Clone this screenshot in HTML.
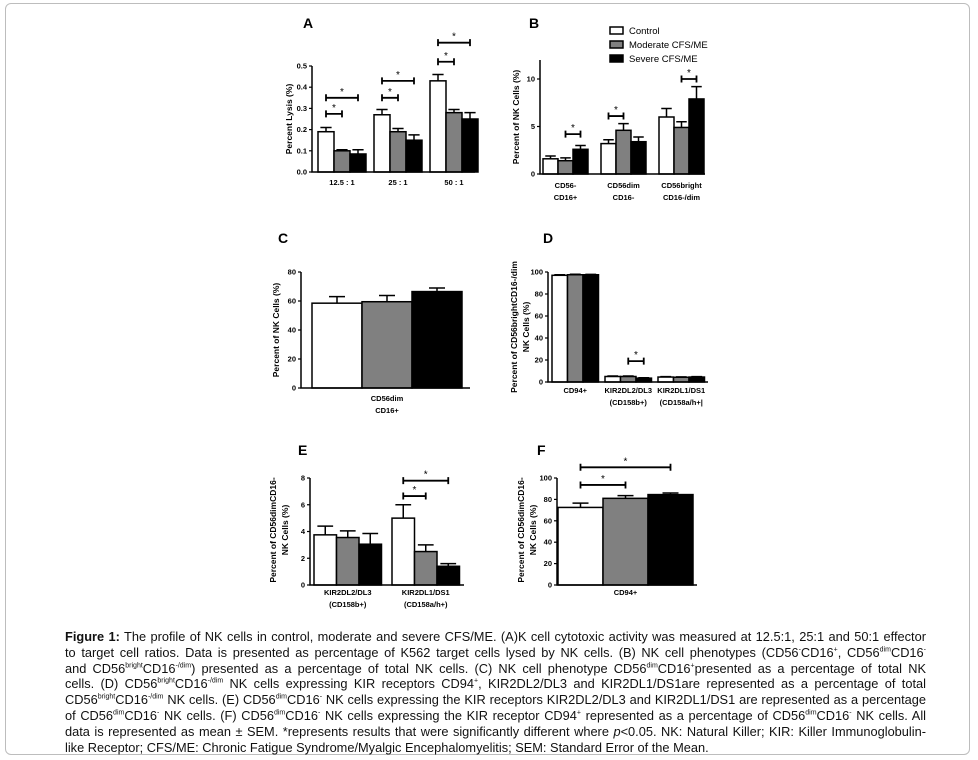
<!DOCTYPE html>
<html><head><meta charset="utf-8">
<style>
body{margin:0;background:#fff;width:978px;height:760px;overflow:hidden;position:relative;font-family:"Liberation Sans",Arial,sans-serif}
#frame{position:absolute;left:5px;top:3px;width:965px;height:752px;border:1.5px solid #bdbdbd;border-radius:6px;box-sizing:border-box}
#cap{position:absolute;left:65px;top:629px;width:861px;font-size:12.8px;line-height:15.8px;color:#111}
#cap span{display:block;white-space:nowrap;text-align:justify;text-align-last:justify}
#cap span.last{text-align-last:left}
#cap sup{font-size:7px;line-height:0}
svg{position:absolute;left:0;top:0}
svg text{font-family:"Liberation Sans",Arial,sans-serif}
</style></head><body>
<div id="frame"></div>
<svg id="fig" width="978" height="620"></svg>
<div id="cap">
<span><b>Figure 1:</b> The profile of NK cells in control, moderate and severe CFS/ME. (A)K cell cytotoxic activity was measured at 12.5:1, 25:1 and 50:1 effector</span>
<span>to target cell ratios. Data is presented as percentage of K562 target cells lysed by NK cells. (B) NK cell phenotypes (CD56<sup>-</sup>CD16<sup>+</sup>, CD56<sup>dim</sup>CD16<sup>-</sup></span>
<span>and CD56<sup>bright</sup>CD16<sup>-/dim</sup>) presented as a percentage of total NK cells. (C) NK cell phenotype CD56<sup>dim</sup>CD16<sup>+</sup>presented as a percentage of total NK</span>
<span>cells. (D) CD56<sup>bright</sup>CD16<sup>-/dim</sup> NK cells expressing KIR receptors CD94<sup>+</sup>, KIR2DL2/DL3 and KIR2DL1/DS1are represented as a percentage of total</span>
<span>CD56<sup>bright</sup>CD16<sup>-/dim</sup> NK cells. (E) CD56<sup>dim</sup>CD16<sup>-</sup> NK cells expressing the KIR receptors KIR2DL2/DL3 and KIR2DL1/DS1 are represented as a percentage</span>
<span>of CD56<sup>dim</sup>CD16<sup>-</sup> NK cells. (F) CD56<sup>dim</sup>CD16<sup>-</sup> NK cells expressing the KIR receptor CD94<sup>+</sup> represented as a percentage of CD56<sup>dim</sup>CD16<sup>-</sup> NK cells. All</span>
<span>data is represented as mean ± SEM. *represents results that were significantly different where <i>p</i>&lt;0.05. NK: Natural Killer; KIR: Killer Immunoglobulin-</span>
<span class="last">like Receptor; CFS/ME: Chronic Fatigue Syndrome/Myalgic Encephalomyelitis; SEM: Standard Error of the Mean.</span>
</div>
<script>
// ---- data ----
const seriesNames=["Control","Moderate CFS/ME","Severe CFS/ME"];
const aCats=["12.5 : 1","25 : 1","50 : 1"];
const aCtrl=[0.19,0.27,0.43], aCtrlErr=[0.02,0.025,0.03];
const aMod=[0.10,0.19,0.28], aModErr=[0.005,0.015,0.015];
const aSev=[0.085,0.15,0.25], aSevErr=[0.02,0.025,0.03];
const aTicks=["0.0","0.1","0.2","0.3","0.4","0.5"];
const aSig=[[0,0,1,0.274],[0,0,2,0.35],[1,0,1,0.35],[1,0,2,0.43],[2,0,1,0.52],[2,0,2,0.61]];

const bCats=[["CD56-","CD16+"],["CD56dim","CD16-"],["CD56bright","CD16-/dim"]];
const bCtrl=[1.6,3.2,6.0], bCtrlErr=[0.3,0.4,0.9];
const bMod=[1.4,4.6,4.9], bModErr=[0.3,0.7,0.6];
const bSev=[2.6,3.4,7.9], bSevErr=[0.4,0.5,1.3];
const bTicks=["0","5","10"];
const bSig=[[0,1,2,4.2],[1,0,1,6.1],[2,1,2,10]];

const cCats=[["CD56dim","CD16+"]];
const cCtrl=[58.5], cCtrlErr=[4.5];
const cMod=[59.5], cModErr=[4.3];
const cSev=[66.5], cSevErr=[2.5];
const cTicks=["0","20","40","60","80"];
const cSig=[];

const dCats=[["CD94+"],["KIR2DL2/DL3","(CD158b+)"],["KIR2DL1/DS1","(CD158a/h+|"]];
const dCtrl=[97,5,4.5], dCtrlErr=[0.5,0.4,0.4];
const dMod=[97.5,5,4.3], dModErr=[0.4,0.4,0.4];
const dSev=[97.5,3.5,4.5], dSevErr=[0.3,0.4,0.4];
const dTicks=["0","20","40","60","80","100"];
const dSig=[[1,1,2,19]];

const eCats=[["KIR2DL2/DL3","(CD158b+)"],["KIR2DL1/DS1","(CD158a/h+)"]];
const eCtrl=[3.75,5.0], eCtrlErr=[0.65,1.0];
const eMod=[3.55,2.5], eModErr=[0.5,0.5];
const eSev=[3.05,1.4], eSevErr=[0.8,0.2];
const eTicks=["0","2","4","6","8"];
const eSig=[[1,0,1,6.65],[1,0,2,7.8]];

const fCats=[["CD94+"]];
const fCtrl=[72.5], fCtrlErr=[4];
const fMod=[81], fModErr=[2.5];
const fSev=[84.5], fSevErr=[1.5];
const fTicks=["0","20","40","60","80","100"];
const fSig=[[0,0,1,93.5],[0,0,2,110]];

// ---- drawing ----
const NS="http://www.w3.org/2000/svg";
const svg=document.getElementById('fig');
function mk(tag,attrs,parent,txt){const e=document.createElementNS(NS,tag);for(const k in attrs)e.setAttribute(k,attrs[k]);if(txt!==undefined)e.textContent=txt;(parent||svg).appendChild(e);return e;}
const fills=["#fff","#808080","#000"];

function panel(p){
  const g=mk('g',{});
  
  
  const y=v=>p.y0-(v/p.vmax)*(p.y0-p.yTop);
  const xb=(gi,si)=>p.gx+gi*p.step+si*p.bw;
  const L=mk('text',{x:p.lx,y:p.ly,'font-size':14,'font-weight':'bold'},g,p.id);
  
  
  const vals=[p.ctrl,p.mod,p.sev], errs=[p.ctrlE,p.modE,p.sevE];
  for(let gi=0;gi<p.cats.length;gi++){
    for(let si=0;si<3;si++){
      const v=vals[si][gi], e=errs[si][gi], x=xb(gi,si);
      const r=mk('rect',{x:x,y:y(v),width:p.bw,height:p.y0-y(v),fill:fills[si],stroke:'#000','stroke-width':1.5},g);
      
      
      const cx=x+p.bw/2, ew=Math.min(p.bw*0.35,8);
      const eb=mk('path',{d:`M${cx} ${y(v)}V${y(v+e)}M${cx-ew} ${y(v+e)}H${cx+ew}`,stroke:'#000','stroke-width':1.5,fill:'none'},g);
      
      
    }
    p.cats[gi].forEach((t,li)=>{
      const tx=mk('text',{x:xb(gi,1.5),y:p.xly+li*12,'font-size':7.5,'font-weight':'bold','text-anchor':'middle'},g,t);
      
      
    });
  }
  const ax=mk('path',{d:`M${p.ax} ${p.yTopAxis}V${p.y0}H${p.axEnd}`,stroke:'#000','stroke-width':1.5,fill:'none'},g);
  
  
  p.ticks.forEach(t=>{
    const v=parseFloat(t), ty=y(v);
    mk('path',{d:`M${p.ax-3} ${ty}H${p.ax}`,stroke:'#000','stroke-width':1.2},g);
    const tl=mk('text',{x:p.ax-5,y:ty+2.5,'font-size':7.5,'font-weight':'bold','text-anchor':'end'},g,t);
    
    
  });
  p.ytitle.forEach((t,i)=>{
    const yt=mk('text',{x:0,y:0,'font-size':8.5,'font-weight':'bold','text-anchor':'middle',transform:`translate(${p.ytx+i*12},${p.yty}) rotate(-90)`},g,t);
    
    
  });
  p.sig.forEach(s=>{
    const x1=xb(s[0],s[1]+0.5), x2=xb(s[0],s[2]+0.5), sy=y(s[3]);
    const b=mk('path',{d:`M${x1} ${sy-3.5}V${sy+3.5}M${x1} ${sy}H${x2}M${x2} ${sy-3.5}V${sy+3.5}`,stroke:'#000','stroke-width':1.8,fill:'none'},g);
    
    
    const st=mk('text',{x:(x1+x2)/2,y:sy-3,'font-size':10,'text-anchor':'middle'},g,'*');
    
    
  });
}

panel({id:'A',lx:303,ly:28,cats:aCats.map(c=>[c]),ctrl:aCtrl,ctrlE:aCtrlErr,mod:aMod,modE:aModErr,sev:aSev,sevE:aSevErr,
  ticks:aTicks,sig:aSig,vmax:0.5,y0:172,yTop:66,yTopAxis:66,ax:312,axEnd:475,gx:318,step:56,bw:16,xly:185,ytitle:["Percent Lysis (%)"],ytx:292,yty:119});
panel({id:'B',lx:529,ly:28,cats:bCats,ctrl:bCtrl,ctrlE:bCtrlErr,mod:bMod,modE:bModErr,sev:bSev,sevE:bSevErr,
  ticks:bTicks,sig:bSig,vmax:10,y0:174,yTop:79,yTopAxis:60,ax:540,axEnd:705,gx:543,step:58,bw:15,xly:188,ytitle:["Percent of NK Cells (%)"],ytx:519,yty:117});
panel({id:'C',lx:278,ly:243,cats:cCats,ctrl:cCtrl,ctrlE:cCtrlErr,mod:cMod,modE:cModErr,sev:cSev,sevE:cSevErr,
  ticks:cTicks,sig:cSig,vmax:80,y0:388,yTop:272,yTopAxis:272,ax:301,axEnd:470,gx:312,step:0,bw:50,xly:401,ytitle:["Percent of NK Cells (%)"],ytx:279,yty:330});
panel({id:'D',lx:543,ly:243,cats:dCats,ctrl:dCtrl,ctrlE:dCtrlErr,mod:dMod,modE:dModErr,sev:dSev,sevE:dSevErr,
  ticks:dTicks,sig:dSig,vmax:100,y0:382,yTop:272,yTopAxis:272,ax:548,axEnd:708,gx:552,step:53,bw:15.5,xly:393,ytitle:["Percent of CD56brightCD16-/dim","NK Cells (%)"],ytx:517,yty:327});
panel({id:'E',lx:298,ly:455,cats:eCats,ctrl:eCtrl,ctrlE:eCtrlErr,mod:eMod,modE:eModErr,sev:eSev,sevE:eSevErr,
  ticks:eTicks,sig:eSig,vmax:8,y0:585,yTop:478,yTopAxis:478,ax:310,axEnd:464,gx:314,step:78,bw:22.5,xly:595,ytitle:["Percent of CD56dimCD16-","NK Cells (%)"],ytx:276,yty:530});
panel({id:'F',lx:537,ly:455,cats:fCats,ctrl:fCtrl,ctrlE:fCtrlErr,mod:fMod,modE:fModErr,sev:fSev,sevE:fSevErr,
  ticks:fTicks,sig:fSig,vmax:100,y0:585,yTop:478,yTopAxis:478,ax:557,axEnd:697,gx:558,step:0,bw:45,xly:595,ytitle:["Percent of CD56dimCD16-","NK Cells (%)"],ytx:524,yty:530});

const lg=mk('g',{});


seriesNames.forEach((n,i)=>{
  const r=mk('rect',{x:610,y:27+i*14,width:13,height:7,fill:fills[i],stroke:'#000','stroke-width':1.5},lg);
  
  
  const t=mk('text',{x:629,y:34+i*14,'font-size':9.5},lg,n);
  
  
});
</script>
</body></html>
